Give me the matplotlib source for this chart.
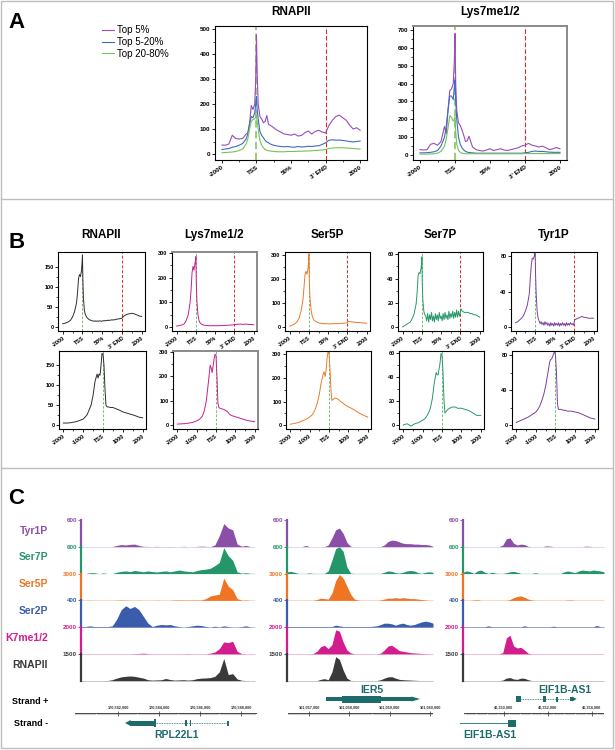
import numpy as np
import matplotlib
matplotlib.use('Agg')
import matplotlib.pyplot as plt
from matplotlib.patches import Rectangle, Polygon

plt.rcParams['font.family'] = ['Liberation Sans', 'DejaVu Sans']
plt.rcParams['font.weight'] = 'bold'

W, H = 615, 750

# ---------------- panel A data (metagene, x: 0=-2000, 1=TSS, 2=50%, 3=3'END, 4=2000)
xa = [0, 0.1, 0.2, 0.3, 0.4, 0.5, 0.6, 0.7, 0.75, 0.8, 0.85, 0.9, 0.95, 0.98, 1.0, 1.02, 1.05,
      1.1, 1.15, 1.2, 1.25, 1.3, 1.35, 1.4, 1.5, 1.6, 1.7, 1.8, 1.9, 2.0, 2.1, 2.2, 2.3, 2.4,
      2.5, 2.6, 2.7, 2.8, 2.9, 3.0, 3.1, 3.2, 3.3, 3.4, 3.5, 3.6, 3.7, 3.8, 3.9, 4.0]
a_pol_top5 = [36, 35, 40, 75, 62, 60, 62, 80, 85, 120, 194, 178, 200, 300, 477, 330, 200,
              150, 140, 125, 130, 154, 118, 115, 105, 95, 88, 80, 78, 75, 80, 72, 74, 85,
              92, 80, 90, 95, 88, 84, 115, 135, 150, 155, 145, 135, 115, 100, 105, 95]
a_pol_top20 = [18, 20, 22, 27, 30, 35, 42, 60, 80, 120, 150, 145, 165, 200, 230, 180, 140,
               90, 75, 65, 55, 48, 45, 40, 35, 32, 30, 29, 30, 28, 27, 30, 28, 29,
               31, 30, 32, 33, 38, 45, 55, 57, 55, 56, 54, 52, 50, 48, 50, 52]
a_pol_top80 = [5, 6, 7, 8, 10, 14, 20, 40, 60, 100, 130, 138, 140, 148, 155, 130, 100,
               55, 35, 25, 18, 15, 13, 12, 10, 9, 9, 9, 10, 10, 10, 11, 11, 12,
               12, 13, 14, 15, 16, 18, 22, 24, 25, 25, 25, 24, 23, 22, 21, 20]
a_lys_top5 = [30, 28, 30, 60, 65, 55, 75, 160, 120, 250, 360, 370, 400, 520, 680, 400, 250,
              180, 165, 140, 110, 75, 80, 105, 45, 30, 25, 22, 28, 35, 25, 30, 35, 28,
              25, 30, 35, 40, 50, 55, 65, 55, 50, 45, 50, 40, 30, 35, 42, 35]
a_lys_top20 = [12, 12, 13, 15, 18, 25, 50, 100, 160, 250, 330, 330, 310, 380, 420, 300, 200,
               100, 60, 40, 28, 20, 16, 14, 12, 10, 10, 10, 10, 10, 10, 10, 10, 10,
               10, 10, 10, 10, 10, 12, 15, 20, 22, 20, 20, 18, 16, 15, 15, 15]
a_lys_top80 = [5, 5, 5, 6, 7, 10, 20, 50, 90, 150, 220, 210, 190, 200, 210, 130, 60,
               25, 15, 10, 8, 7, 7, 7, 7, 7, 7, 7, 7, 7, 7, 7, 7, 7,
               7, 7, 7, 7, 7, 8, 8, 8, 8, 8, 8, 8, 8, 8, 8, 8]
a_labels = ['Top 5%', 'Top 5-20%', 'Top 20-80%']
a_titles = ['RNAPII', 'Lys7me1/2']
body_ticks = ['-2000', 'TSS', '50%', "3' END", '2000']

# ---------------- panel B data
xb = ([0, 0.1, 0.2, 0.3, 0.4, 0.5, 0.6, 0.7, 0.75, 0.8, 0.85, 0.9, 0.95, 0.98, 1.0, 1.02,
       1.05, 1.1, 1.15] + list(np.round(np.arange(1.2, 3.001, 0.05), 2)) +
      [3.02, 3.1, 3.2, 3.3, 3.4, 3.5, 3.6, 3.7, 3.8, 3.9, 4.0])
b_top = {
    'RNAPII': [8, 9, 11, 13, 17, 25, 38, 60, 85, 120, 130, 125, 140, 160, 178, 120, 70, 40, 30,
               26, 22, 20, 18, 17, 16, 15, 15, 14, 15, 14, 15, 14, 15, 15, 14, 15, 15, 16, 15,
               16, 16, 17, 16, 17, 17, 18, 17, 18, 18, 19, 19, 20, 20, 21, 21, 22,
               23, 27, 30, 32, 33, 34, 33, 31, 29, 27, 26],
    'Lys7me1/2': [5, 6, 8, 10, 14, 28, 50, 100, 150, 220, 245, 230, 255, 270, 285, 180, 110, 55, 30,
                  20, 15, 12, 10, 9, 8, 8, 7, 7, 6, 7, 6, 6, 6, 7, 6, 6, 6, 7, 6, 6, 7, 7, 6,
                  7, 7, 8, 7, 8, 8, 8, 9, 9, 9, 10, 10, 10,
                  11, 12, 12, 13, 12, 12, 13, 12, 11, 11, 10],
    'Ser5P': [5, 8, 12, 16, 25, 40, 70, 120, 170, 220, 232, 220, 240, 270, 305, 200, 130, 80, 55,
              40, 32, 28, 25, 22, 20, 19, 18, 17, 17, 16, 16, 15, 15, 15, 15, 14, 15, 15, 14,
              15, 15, 15, 16, 15, 16, 16, 16, 17, 16, 17, 17, 17, 18, 18, 18, 19,
              25, 24, 23, 22, 21, 20, 20, 19, 18, 18, 17],
    'Ser7P': [0, 1, 2, 3, 4, 7, 11, 19, 28, 42, 45, 44, 48, 52, 58, 35, 22, 13, 10,
              9, 5, 11, 4, 10, 6, 12, 5, 9, 4, 11, 6, 10, 5, 12, 7, 9, 5, 11, 6, 12, 7, 10,
              6, 13, 7, 11, 8, 13, 7, 12, 8, 14, 8, 13, 9, 12,
              15, 13, 12, 12, 12, 11, 11, 10, 10, 9, 8],
    'Tyr1P': [5, 6, 8, 10, 13, 18, 25, 38, 55, 70, 78, 77, 80, 84, 82, 60, 38, 18, 10,
              7, 4, 6, 3, 5, 2, 6, 3, 5, 2, 4, 1, 5, 2, 4, 1, 5, 2, 4, 2, 5, 1, 4, 2, 5, 2,
              4, 1, 5, 2, 4, 2, 5, 3, 4, 2, 5,
              8, 9, 10, 11, 12, 11, 11, 10, 10, 10, 10],
}
xtss = [-2000, -1800, -1600, -1400, -1200, -1000, -900, -800, -700, -600, -500, -400, -300,
        -250, -200, -150, -100, -50, 0, 50, 100, 150, 200, 300, 400, 500, 600, 700, 800,
        1000, 1200, 1400, 1600, 1800, 2000]
b_bottom = {
    'RNAPII': [5, 5, 6, 8, 11, 15, 20, 26, 38, 50, 75, 110, 128, 118, 128, 125, 150, 180, 178,
               150, 90, 50, 46, 45, 44, 44, 42, 40, 38, 33, 30, 27, 24, 20, 18],
    'Lys7me1/2': [5, 6, 7, 9, 12, 18, 22, 28, 38, 60, 100, 170, 245, 235, 215, 240, 270, 290,
                  285, 200, 90, 72, 70, 67, 65, 60, 55, 45, 40, 35, 30, 25, 20, 17, 15],
    'Ser5P': [5, 8, 12, 18, 25, 35, 42, 52, 70, 95, 130, 180, 215, 225, 205, 230, 280, 310,
              300, 240, 150, 105, 108, 115, 113, 108, 100, 95, 88, 78, 70, 60, 50, 42, 35],
    'Ser7P': [0, 1, -1, 1, 2, 4, 5, 7, 10, 14, 22, 35, 44, 42, 42, 47, 52, 60, 58, 45, 22, 10,
              11, 13, 14, 15, 15, 15, 14, 14, 13, 12, 10, 8, 8],
    'Tyr1P': [3, 5, 7, 9, 12, 15, 18, 22, 28, 35, 45, 58, 72, 75, 76, 78, 82, 84, 80, 60, 25,
              18, 18, 18, 17, 17, 16, 16, 16, 15, 14, 12, 10, 8, 7],
}
b_colors = {'RNAPII': '#2e2e2e', 'Lys7me1/2': '#c4208f', 'Ser5P': '#ee7a2b',
            'Ser7P': '#27996a', 'Tyr1P': '#7d3f9e'}
b_ylim = {'RNAPII': (-10, 186), 'Lys7me1/2': (-15, 303), 'Ser5P': (-15, 312),
          'Ser7P': (-3.4, 62), 'Tyr1P': (-4.5, 85)}
b_yticks = {'RNAPII': [0, 50, 100, 150], 'Lys7me1/2': [0, 100, 200, 300],
            'Ser5P': [0, 100, 200, 300], 'Ser7P': [0, 20, 40, 60], 'Tyr1P': [0, 40, 80]}
tss_ticks = ['-2000', '-1000', 'TSS', '1000', '2000']

# ---------------- panel C data (genome browser tracks, 40 bins per locus)
c_tracks = ['Tyr1P', 'Ser7P', 'Ser5P', 'Ser2P', 'K7me1/2', 'RNAPII']
c_scale = [600, 600, 3000, 400, 2000, 1500]
c_colors = ['#8b4fa7', '#25956a', '#ef7522', '#3a5cab', '#d31c8e', '#3a3a3a']
locus1 = [
    [5, 5, 5, 5, 5, 5, 5, 5, 30, 50, 40, 55, 60, 30, 10, 8, 5, 10, 5, 5,
     8, 5, 5, 10, 5, 5, 8, 15, 10, 5, 40, 250, 520, 420, 380, 60, 15, 30, 5, 5],
    [0, 0, 20, 20, 0, 15, 0, 0, 30, 50, 60, 45, 70, 55, 40, 60, 45, 35, 50, 60,
     40, 60, 80, 60, 50, 40, 70, 90, 100, 120, 180, 250, 580, 400, 300, 40, 10, 20, 5, 5],
    [30, 30, 40, 30, 30, 30, 30, 30, 40, 60, 50, 40, 30, 40, 30, 30, 30, 40, 30, 30,
     30, 60, 60, 60, 50, 60, 60, 60, 200, 500, 600, 700, 2500, 1600, 1200, 200, 50, 60, 30, 30],
    [10, 10, 20, 10, 10, 10, 10, 20, 120, 260, 320, 280, 310, 260, 160, 60, 10, 30, 40, 35,
     40, 20, 10, 5, 10, 20, 30, 25, 10, 5, 15, 5, 20, 10, 5, 5, 10, 20, 5, 5],
    [20, 20, 20, 20, 20, 20, 20, 20, 20, 20, 20, 20, 30, 40, 60, 30, 20, 20, 20, 20,
     20, 20, 20, 20, 30, 20, 20, 20, 20, 60, 150, 400, 900, 850, 950, 200, 30, 20, 20, 20],
    [15, 15, 15, 15, 15, 15, 20, 60, 150, 220, 250, 270, 250, 200, 150, 60, 40, 50, 60, 130,
     70, 40, 50, 60, 40, 60, 120, 150, 160, 180, 250, 500, 1250, 350, 400, 100, 30, 15, 15, 15],
]
locus2 = [
    [5, 5, 5, 5, 5, 30, 5, 5, 5, 5, 5, 40, 200, 380, 420, 300, 100, 10, 5, 5,
     5, 5, 5, 5, 5, 5, 40, 120, 150, 140, 110, 80, 70, 70, 60, 60, 50, 50, 40, 10],
    [40, 50, 30, 5, 5, 5, 15, 5, 5, 5, 5, 60, 300, 560, 600, 500, 150, 10, 5, 5,
     5, 5, 5, 5, 5, 5, 30, 60, 50, 20, 10, 30, 60, 70, 60, 20, 5, 30, 40, 30],
    [30, 30, 30, 30, 30, 30, 30, 30, 100, 250, 200, 150, 800, 2200, 2900, 2500, 1600, 700, 150, 50,
     30, 30, 30, 30, 30, 60, 150, 250, 250, 300, 250, 300, 250, 200, 200, 150, 100, 60, 30, 30],
    [10, 10, 10, 10, 10, 10, 10, 10, 10, 10, 10, 10, 10, 30, 20, 10, 10, 10, 10, 10,
     10, 10, 10, 15, 20, 40, 60, 60, 50, 30, 50, 60, 40, 30, 40, 60, 80, 90, 80, 60],
    [20, 20, 20, 20, 20, 20, 20, 40, 200, 550, 650, 400, 700, 1800, 1700, 900, 300, 80, 20, 20,
     20, 20, 20, 20, 20, 60, 300, 600, 650, 450, 250, 200, 150, 100, 80, 60, 40, 30, 20, 20],
    [15, 15, 15, 15, 15, 15, 15, 15, 15, 80, 120, 60, 500, 1350, 1200, 600, 150, 20, 15, 15,
     15, 15, 15, 15, 15, 60, 150, 220, 230, 150, 80, 60, 50, 40, 30, 20, 15, 15, 15, 15],
]
locus3 = [
    [5, 5, 5, 5, 5, 5, 5, 5, 5, 5, 5, 40, 180, 200, 80, 40, 60, 50, 10, 5,
     5, 5, 5, 20, 15, 5, 5, 5, 5, 5, 5, 5, 5, 5, 15, 10, 5, 5, 5, 5],
    [30, 60, 40, 5, 60, 80, 30, 5, 30, 10, 5, 5, 20, 40, 50, 30, 5, 5, 5, 5,
     20, 5, 5, 5, 5, 5, 5, 5, 40, 60, 40, 20, 60, 80, 70, 60, 80, 70, 60, 40],
    [30, 30, 30, 60, 80, 30, 30, 30, 30, 30, 30, 30, 30, 100, 300, 450, 500, 350, 150, 60,
     30, 30, 30, 30, 30, 30, 30, 30, 30, 60, 60, 30, 30, 30, 30, 30, 30, 30, 30, 30],
    [8, 8, 8, 8, 8, 8, 8, 20, 8, 8, 8, 8, 8, 8, 8, 8, 8, 20, 8, 8,
     8, 8, 8, 8, 8, 15, 8, 8, 8, 8, 8, 8, 8, 8, 8, 8, 8, 25, 8, 8],
    [20, 20, 20, 20, 20, 20, 20, 20, 20, 20, 20, 100, 1200, 1400, 600, 450, 500, 300, 60, 20,
     20, 20, 20, 20, 20, 20, 20, 20, 20, 20, 20, 20, 20, 20, 20, 20, 20, 20, 20, 20],
    [15, 15, 15, 15, 15, 15, 15, 15, 15, 15, 15, 40, 150, 180, 100, 80, 150, 140, 60, 15,
     15, 15, 15, 15, 15, 15, 15, 15, 15, 15, 15, 15, 15, 15, 15, 15, 15, 15, 15, 15],
]
loci = [locus1, locus2, locus3]

# genomic windows and ruler labels
loc_range = [(170579900, 170588780), (101056480, 101060075), (40348180, 40354545)]
loc_ticks = [[170582000, 170584000, 170586000, 170588000],
             [101057000, 101058000, 101059000, 101060000],
             [40350000, 40352000, 40354000]]
loc_minor = [100, 50, 100]
gene_color = '#1d6b6a'

# ---------------- figure
fig = plt.figure(figsize=(6.15, 7.5), dpi=100)


def box(x0, y0, x1, y1):
    return [x0 / W, 1 - y1 / H, (x1 - x0) / W, (y1 - y0) / H]


# frame lines between panels
ov = fig.add_axes([0, 0, 1, 1])
ov.set_xlim(0, W)
ov.set_ylim(H, 0)
ov.set_axis_off()
ov.add_patch(Rectangle((1, 1), 612, 747, fill=False, ec='#bdbdbd', lw=1))
ov.plot([1, 613], [199, 199], color='#bdbdbd', lw=1)
ov.plot([1, 613], [468, 468], color='#bdbdbd', lw=1)
for letter, y in zip('ABC', [22, 242, 498]):
    ov.text(8, y, letter, fontsize=16, va='center', ha='left')


def style(ax, ylim, yticks, xlim, xticks, xlabels, minor_x, fs=4.5):
    ax.set_xlim(xlim)
    ax.set_ylim(ylim)
    ax.set_yticks(yticks)
    step = yticks[1] - yticks[0]
    ax.set_yticks([t + step / 2 for t in yticks[:-1]], minor=True)
    ax.set_xticks(xticks)
    ax.set_xticks(minor_x, minor=True)
    ax.set_xticklabels(xlabels, rotation=35, ha='right', rotation_mode='anchor')
    ax.tick_params(labelsize=fs, length=2, width=0.6, pad=1.2)
    ax.tick_params(which='minor', length=1.2, width=0.5)
    for s in ax.spines.values():
        s.set_linewidth(0.8)


def grey_frame(ax):
    for side in ['top', 'right']:
        ax.spines[side].set_color('#8a8a8a')
        ax.spines[side].set_linewidth(1.4)


# ---------------- panel A
a_cols = ['#9b4db8', '#3b6cc4', '#74c455']
a_sets = [(a_pol_top5, a_pol_top20, a_pol_top80), (a_lys_top5, a_lys_top20, a_lys_top80)]
a_boxes = [(215, 26, 367, 160), (413, 26, 567, 160)]
a_ylims = [(-24, 512), (-28, 722)]
a_yticks = [list(range(0, 501, 100)), list(range(0, 701, 100))]
handles = []
for k in range(2):
    ax = fig.add_axes(box(*a_boxes[k]))
    for series, c, lab in zip(a_sets[k], a_cols, a_labels):
        ln, = ax.plot(xa, series, color=c, lw=0.8, label=lab)
        if k == 0:
            handles.append(ln)
    ax.axvline(1, color='#8fcb6b', lw=1.3, ls=(0, (4, 2)), zorder=0)
    ax.axvline(3, color='#d42a2a', lw=0.8, ls=(0, (4, 2)), zorder=0)
    style(ax, a_ylims[k], a_yticks[k], (-0.2, 4.2), [0, 1, 2, 3, 4], body_ticks,
          [0.5, 1.5, 2.5, 3.5])
    ax.set_title(a_titles[k], fontsize=8.5, fontweight='bold', pad=8)
    if k == 1:
        grey_frame(ax)

fig.legend(handles=handles, loc='upper left', bbox_to_anchor=(102 / W, 1 - 25 / H),
           frameon=False, prop={'size': 7, 'weight': 'normal'}, handlelength=1.2,
           handletextpad=0.35, labelspacing=0.2, borderpad=0, borderaxespad=0)

# ---------------- panel B
b_cols_x = [(58, 145), (172, 257), (285, 370), (398, 483), (511, 597)]
for (x0, x1), name in zip(b_cols_x, b_top):
    c = b_colors[name]
    ax = fig.add_axes(box(x0, 252, x1, 331))
    ax.plot(xb, b_top[name], color=c, lw=0.7)
    ax.axvline(1, color='#5db35d', lw=0.6, ls=(0, (3, 2)), zorder=0)
    ax.axvline(3, color='#d42a2a', lw=0.7, ls=(0, (3, 2)), zorder=0)
    style(ax, b_ylim[name], b_yticks[name], (-0.24, 4.17), [0, 1, 2, 3, 4], body_ticks,
          [0.5, 1.5, 2.5, 3.5], fs=4)
    ax.set_title(name, fontsize=8.5, fontweight='bold', pad=10)

    ax2 = fig.add_axes(box(x0 + 1, 351, x1 + 1, 429))
    ax2.plot(xtss, b_bottom[name], color=c, lw=0.7)
    ax2.axvline(0, color='#5db35d', lw=0.6, ls=(0, (3, 2)), zorder=0)
    style(ax2, b_ylim[name], b_yticks[name], (-2220, 2170),
          [-2000, -1000, 0, 1000, 2000], tss_ticks, [-1500, -500, 500, 1500], fs=4)
    if name == 'Lys7me1/2':
        grey_frame(ax)
        grey_frame(ax2)

# ---------------- panel C tracks
c_cols_x = [(81, 255), (287, 433), (463, 604)]
track_h = 26.8
for j, (x0, x1) in enumerate(c_cols_x):
    for t in range(6):
        top = 520 + t * track_h
        ax = fig.add_axes(box(x0, top, x1, top + track_h))
        vals = loci[j][t]
        xs = np.linspace(0, 1, len(vals))
        c = c_colors[t]
        ax.fill_between(xs, 0, vals, color=c, lw=0)
        ax.axhline(0, color=c, lw=0.6, alpha=0.4)
        ax.set_xlim(0, 1)
        ax.set_ylim(0, c_scale[t])
        ax.set_xticks([])
        ax.set_yticks([c_scale[t]])
        ax.set_yticklabels([str(c_scale[t])])
        ax.tick_params(axis='y', colors=c, labelsize=4.5, length=2.5, width=0.6, pad=0.5)
        for side in ['top', 'right', 'bottom']:
            ax.spines[side].set_visible(False)
        ax.spines['left'].set_color(c)
        ax.spines['left'].set_linewidth(1.6)
        ax.patch.set_alpha(0)
        if j == 0:
            ov.text(48, top + 10.5, c_tracks[t], color=c, fontsize=7.5, ha='right', va='center')

# ---------------- gene models and rulers
ov.text(12, 702, 'Strand +', fontsize=6.5, va='center', ha='left')
ov.text(14, 723, 'Strand -', fontsize=6.5, va='center', ha='left')

g_cols_x = [(75, 257), (288, 433), (464, 604)]
gaxes = []
for j, (x0, x1) in enumerate(g_cols_x):
    g = fig.add_axes(box(x0, 684, x1, 746))
    g.set_xlim(loc_range[j])
    g.set_ylim(746, 684)
    g.set_axis_off()
    lo, hi = loc_range[j]
    g.plot([lo, hi], [713, 713], color='#333333', lw=0.6)
    minors = np.arange(np.ceil(lo / loc_minor[j]) * loc_minor[j], hi, loc_minor[j])
    g.vlines(minors, 713, 715, color='#333333', lw=0.35)
    g.vlines(loc_ticks[j], 711, 716, color='#333333', lw=0.5)
    for tk in loc_ticks[j]:
        g.text(tk, 709.5, f'{tk:,}', fontsize=2.8, ha='center', va='bottom', color='#333333')
    gaxes.append(g)


def exon(ax, a, b, y, h):
    ax.add_patch(Rectangle((a, y - h / 2), b - a, h, color=gene_color, lw=0))


def intron(ax, a, b, y):
    ax.plot([a, b], [y, y], color=gene_color, lw=0.6, ls=(0, (1, 1)))


def arrow(ax, tip, base, y, h):
    ax.add_patch(Polygon([(base, y - h / 2), (tip, y), (base, y + h / 2)], color=gene_color, lw=0))


# RPL22L1 (strand -)
g = gaxes[0]
intron(g, 170583800, 170587360, 723)
arrow(g, 170582340, 170582620, 723, 6)
exon(g, 170582600, 170583800, 723, 5)
exon(g, 170583760, 170583860, 723, 8)
exon(g, 170585280, 170585370, 723, 6)
exon(g, 170585500, 170585580, 723, 6)
exon(g, 170587330, 170587390, 723, 5)
g.text(170584860, 735, 'RPL22L1', color=gene_color, fontsize=7.5, ha='center', va='center')

# IER5 (strand +)
g = gaxes[1]
exon(g, 101057423, 101059560, 699, 4)
exon(g, 101057820, 101058788, 699, 7)
arrow(g, 101059755, 101059540, 699, 5)
g.text(101058560, 690, 'IER5', color=gene_color, fontsize=7.5, ha='center', va='center')

# EIF1B-AS1 (both strands)
g = gaxes[2]
intron(g, 40350770, 40352990, 699)
exon(g, 40350545, 40350770, 699, 6)
exon(g, 40351770, 40351910, 699, 6)
exon(g, 40352360, 40352450, 699, 5)
exon(g, 40352990, 40353130, 699, 4)
arrow(g, 40353300, 40353100, 699, 5)
g.text(40352780, 690, 'EIF1B-AS1', color=gene_color, fontsize=7.5, ha='center', va='center')

g.plot([40348000, 40350180], [723, 723], color=gene_color, lw=0.6, clip_on=False)
exon(g, 40350180, 40350545, 723, 7)
g.text(40349350, 735, 'EIF1B-AS1', color=gene_color, fontsize=7.5, ha='center', va='center')

fig.savefig('out.png', dpi=100)
